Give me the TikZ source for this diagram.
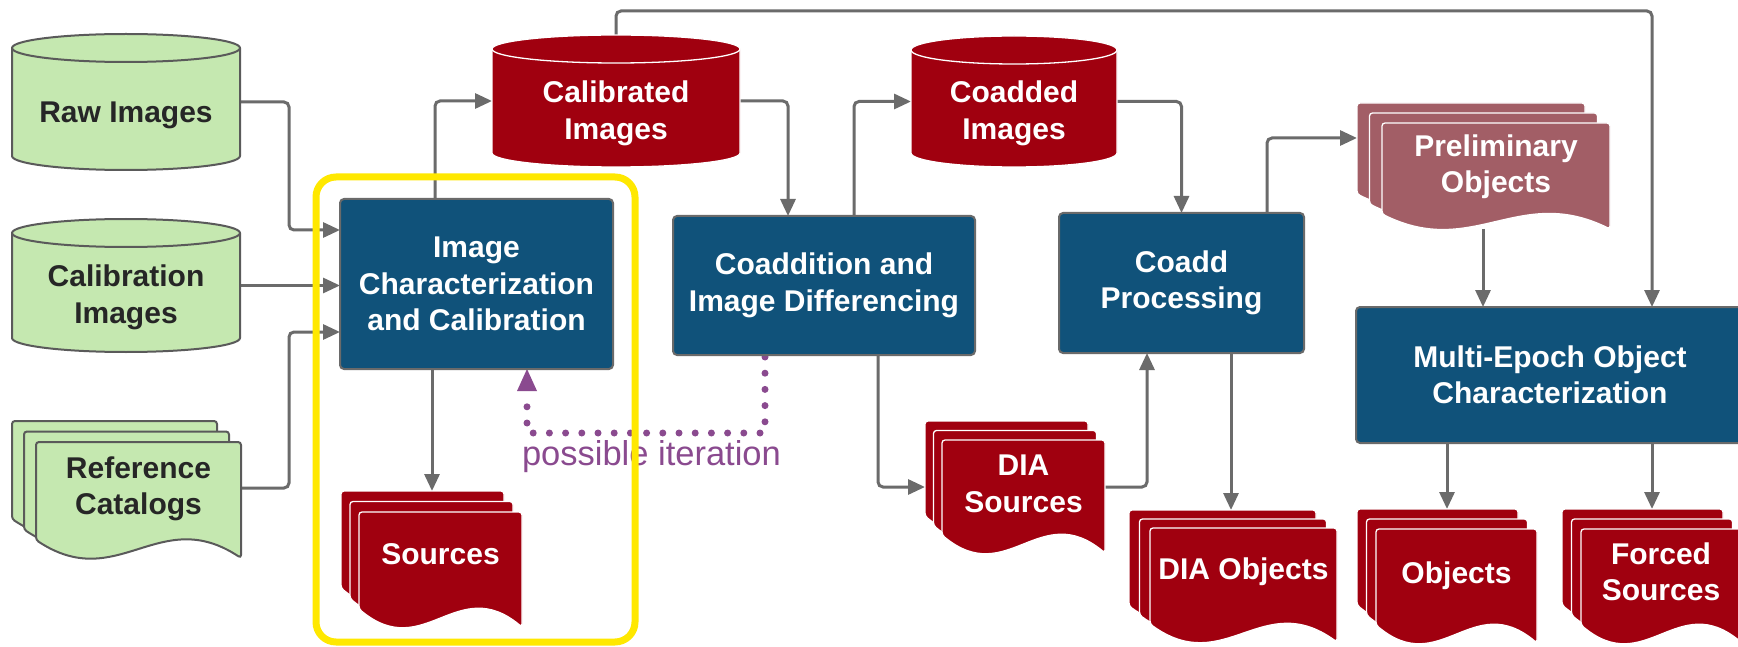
\documentclass[tikz,border=0pt]{standalone}
\usepackage{fontspec}
\setmainfont{Liberation Sans}
\usetikzlibrary{arrows.meta,calc}
\pgfdeclarelayer{bg}
\pgfsetlayers{bg,main}
\definecolor{gfill}{HTML}{C5E8B0}
\definecolor{gline}{HTML}{5A5A5A}
\definecolor{gtext}{HTML}{262626}
\definecolor{rfill}{HTML}{A0000F}
\definecolor{pfill}{HTML}{A25E66}
\definecolor{bfill}{HTML}{10527A}
\definecolor{bline}{HTML}{6A6A6A}
\definecolor{arr}{HTML}{6B6B6B}
\definecolor{purp}{HTML}{8A4A8F}
\definecolor{yel}{HTML}{FFE800}
\def\wa{18}
\newcommand{\mycyl}[7]{%
  \pgfmathsetmacro{\crx}{((#4)-(#2))/2}%
  \pgfmathsetmacro{\cmx}{((#4)+(#2))/2}%
  \pgfmathsetmacro{\cmy}{((#3)+(#5))/2}%
  \pgfmathsetmacro{\cw}{(#4)-(#2)}%
  \pgfmathsetmacro{\cyh}{(#5)-(#3)}%
  \path[#6] (#2,#3+14) -- (#2,#5-14) arc[start angle=180,end angle=360,x radius=\crx pt,y radius=14pt] -- (#4,#3+14) arc[start angle=0,end angle=180,x radius=\crx pt,y radius=14pt] -- cycle;
  \path[#7] (#2,#3+14) arc[start angle=180,end angle=360,x radius=\crx pt,y radius=14pt];
  \node[shapebox,minimum width=\cw pt,minimum height=\cyh pt] (#1) at (\cmx,\cmy) {};
}
\newcommand{\mydocpage}[5]{%
  \path[#5,rounded corners=3pt] ({#1},{(#4)-\wa}) -- ({#1},{#2}) -- ({#3},{#2}) -- ({#3},{#4}) .. controls ({(#1)+0.6*((#3)-(#1))},{(#4)-3*\wa}) and ({(#1)+0.4*((#3)-(#1))},{(#4)+2*\wa}) .. ({#1},{(#4)-\wa}) -- cycle;
}
\newcommand{\mydocs}[8]{%
  \mydocpage{(#2)-2*(#6)}{(#3)-2*(#7)}{(#4)-2*(#6)}{(#5)-2*(#7)}{#8}%
  \mydocpage{(#2)-(#6)}{(#3)-(#7)}{(#4)-(#6)}{(#5)-(#7)}{#8}%
  \mydocpage{#2}{#3}{#4}{#5}{#8}%
  \pgfmathsetmacro{\cmx}{((#4)+(#2))/2}%
  \pgfmathsetmacro{\cmy}{((#3)+(#5))/2}%
  \pgfmathsetmacro{\cw}{(#4)-(#2)}%
  \pgfmathsetmacro{\cyh}{(#5)-(#3)}%
  \node[shapebox,minimum width=\cw pt,minimum height=\cyh pt] (#1) at (\cmx,\cmy) {};
  \coordinate (#1-top) at ({\cmx-2*(#6)},{(#3)-2*(#7)});
}
\tikzset{
  every node/.style={font=\fontsize{30}{36.5}\selectfont\bfseries, inner sep=0pt, outer sep=0pt},
  shapebox/.style={rectangle, draw=none, fill=none},
  txtw/.style={text=white, align=center},
  txtg/.style={text=gtext, align=center},
  procbox/.style={rectangle, rounded corners=4pt, fill=bfill, draw=bline, line width=2pt, text=white, align=center},
  greenshape/.style={fill=gfill, draw=gline, line width=2pt},
  greenrim/.style={draw=gline, line width=2pt},
  redshape/.style={fill=rfill, draw=white, line width=1.3pt},
  redrim/.style={draw=white, line width=1.3pt},
  prelimshape/.style={fill=pfill, draw=white, line width=1.3pt},
  conn/.style={draw=arr, line width=3pt, rounded corners=5pt, -{Triangle[length=17pt,width=15pt]}},
  iter/.style={draw=purp, line width=7pt, line cap=round, dash pattern=on 0pt off 16.2pt, -{Triangle[length=22pt,width=20pt,line width=0pt]}},
}
\begin{document}
\begin{tikzpicture}[x=1pt,y=-1pt]
\useasboundingbox (0,0) rectangle (1738,647);
\clip (0,0) rectangle (1738,647);
\begin{pgfonlayer}{bg}
\fill[white] (0,0) rectangle (1738,647);
\end{pgfonlayer}

% inputs
\mycyl{raw}{12}{34}{240}{170}{greenshape}{greenrim}
\node[txtg] (raw-t) at (126,115) {Raw Images};
\mycyl{calib}{12}{219}{240}{352}{greenshape}{greenrim}
\node[txtg] (calib-t) at (126,297.5) {Calibration\\Images};
\mydocs{ref}{36}{442}{241}{558}{12}{10.5}{greenshape}
\node[txtg] (ref-t) at (138.5,489) {Reference\\Catalogs};

% data products
\mycyl{calibd}{492}{35}{740}{167}{redshape}{redrim}
\node[txtw] (calibd-t) at (616,113.5) {Calibrated\\Images};
\mycyl{coaddimg}{911}{36}{1117}{167}{redshape}{redrim}
\node[txtw] (coaddimg-t) at (1014,113.5) {Coadded\\Images};
\mydocs{src}{359}{512}{522}{627}{9}{10.5}{redshape}
\node[txtw] (src-t) at (440.5,554) {Sources};
\mydocs{dias}{942}{440}{1105}{553}{8.5}{9.5}{redshape}
\node[txtw] (dias-t) at (1023.5,484) {DIA\\Sources};
\mydocs{diao}{1150}{528}{1337}{642}{10.5}{9}{redshape}
\node[txtw] (diao-t) at (1243.5,571.5) {DIA Objects};
\mydocs{obj}{1376}{529}{1537}{643}{9.5}{10}{redshape}
\node[txtw] (obj-t) at (1456.5,576) {Objects};
\mydocs{forced}{1581}{529}{1742}{643}{9.5}{10}{redshape}
\node[txtw] (forced-t) at (1661,572) {Forced\\Sources};
\def\wa{15}
\mydocs{prelim}{1382}{123}{1610}{229}{12.5}{10}{prelimshape}
\node[txtw] (prelim-t) at (1496,166.5) {Preliminary\\Objects};

% processing steps
\node[procbox, minimum width=273pt, minimum height=170pt] (icc) at (476.5,284) {Image\\Characterization\\and Calibration};
\node[procbox, minimum width=302pt, minimum height=139pt] (coaddn) at (824,285.5) {Coaddition and\\Image Differencing};
\node[procbox, minimum width=245pt, minimum height=140pt] (cproc) at (1181.5,283) {Coadd\\Processing};
\node[procbox, minimum width=388pt, minimum height=136pt] (multi) at (1550,375) {Multi-Epoch Object\\Characterization};

\node[font=\fontsize{34.5}{40}\selectfont, text=purp, anchor=base west] (iterlbl) at (522,465) {possible iteration};

% connectors
\begin{pgfonlayer}{bg}
\draw[conn] (raw.east) -- ++(49,0) |- ([yshift=54pt]icc.west);
\draw[conn] (calib.east) -- (calib.east -| icc.west);
\draw[conn] ([yshift=12pt]ref.east) -- ++(48,0) |- ([yshift=-48pt]icc.west);
\draw[conn] ([xshift=-41.5pt]icc.north) |- (calibd.west);
\draw[conn] (calibd.east) -| ([xshift=-36pt]coaddn.north);
\draw[conn] ([xshift=30pt]coaddn.north) |- (coaddimg.west);
\draw[conn] (coaddimg.east) -| (cproc.north);
\draw[conn] ([xshift=54pt]coaddn.south) |- ([xshift=-17pt,yshift=9.5pt]dias.west);
\draw[conn] ([yshift=9.5pt]dias.east) -| ([xshift=-34.5pt]cproc.south);
\coordinate (c10) at ([xshift=49.5pt]cproc.south);
\draw[conn] (c10) -- (c10 |- diao-top);
\draw[conn] ([xshift=85.5pt]cproc.north) |- ([xshift=-25pt,yshift=38pt]prelim.west);
\coordinate (c12) at ([xshift=-13pt]prelim.south);
\draw[conn] (c12) -- (c12 |- multi.north);
\draw[conn] (calibd.north) -- ++(0,-24) -| ([xshift=102pt]multi.north);
\coordinate (c14) at ([xshift=-103pt]multi.south);
\draw[conn] (c14) -- (c14 |- obj-top);
\coordinate (c15) at ([xshift=102pt]multi.south);
\draw[conn] (c15) -- (c15 |- forced-top);
\coordinate (c16) at ([xshift=-44.5pt]icc.south);
\draw[conn] (c16) -- (c16 |- src-top);
\draw[iter] ([xshift=-59pt,yshift=-2pt]coaddn.south) -- ++(0,76) -| ([xshift=50.5pt]icc.south);
\end{pgfonlayer}

% highlight
\node[draw=yel, line width=7pt, rounded corners=20pt, minimum width=319pt, minimum height=465pt] (hl) at (475.5,409.5) {};
\end{tikzpicture}
\end{document}
